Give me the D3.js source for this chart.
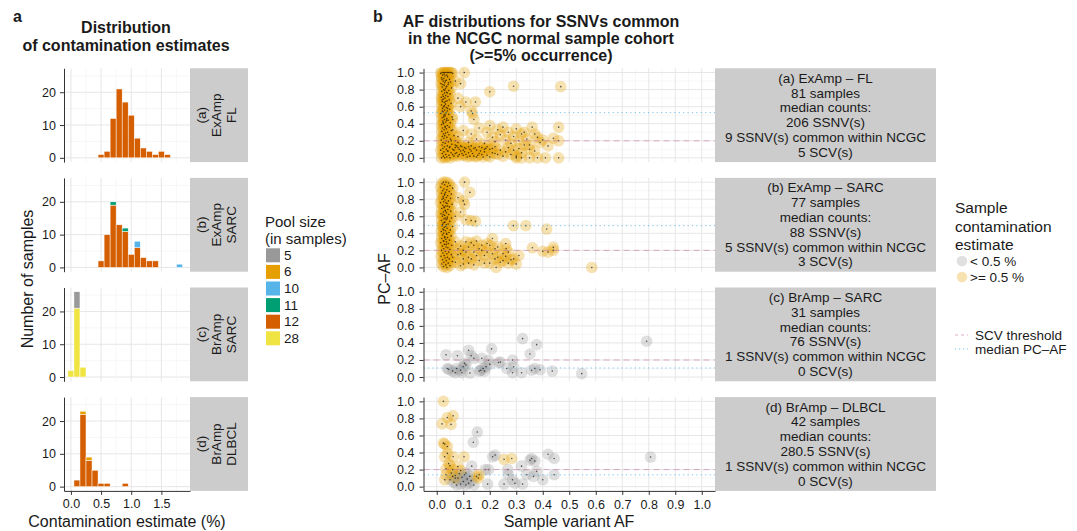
<!DOCTYPE html>
<html><head><meta charset="utf-8">
<script src="https://cdn.jsdelivr.net/npm/d3@7"></script>
<style>
body{margin:0;background:#fff}
text{font-family:"Liberation Sans",Arial,Helvetica,sans-serif;fill:#1a1a1a}
</style></head>
<body><svg id="c" width="1077" height="531"></svg>
<script>
// ---------------- DATA ----------------
const poolLevels = ["5","6","10","11","12","28"];
const poolColors = ["#999999","#E69F00","#56B4E9","#009E73","#D55E00","#F0E442"];
const stackOrder = ["28","12","11","10","6","5"]; // bottom -> top

// histogram bins: [bin centre (%), pool size, count]
const histA = [[0.5,"12",1],[0.6,"12",2],[0.7,"12",12],[0.8,"12",21],[0.9,"12",17],[1.0,"12",13],[1.1,"12",6],[1.2,"12",3],[1.3,"12",2],[1.4,"12",1],[1.5,"12",2],[1.6,"12",1]];
const histB = [[0.5,"12",2],[0.6,"12",10],[0.7,"12",19],[0.7,"11",1],[0.8,"12",13],[0.9,"12",11],[0.9,"11",1],[1.0,"12",4],[1.1,"12",6],[1.1,"10",2],[1.2,"12",3],[1.3,"12",2],[1.4,"12",2],[1.8,"10",1]];
const histC = [[0.0,"28",2],[0.1,"28",21],[0.1,"5",5],[0.2,"28",3]];
const histD = [[0.1,"12",2],[0.2,"12",22],[0.2,"6",1],[0.3,"12",8],[0.3,"6",1],[0.4,"12",5],[0.5,"12",1],[0.6,"12",1],[0.9,"12",1]];
const histXTicks = [0, 0.5, 1.0, 1.5];
const histYTicks = [0, 10, 20];
const leftStrips = [["(a)","ExAmp","FL"],["(b)","ExAmp","SARC"],["(c)","BrAmp","SARC"],["(d)","BrAmp","DLBCL"]];

// scatter: [sample variant AF, PC-AF]
const scatA = [
[0.02,1.0],[0.03,1.0],[0.04,1.0],[0.05,1.0],[0.025,1.0],[0.035,1.0],[0.045,1.0],[0.055,1.0],[0.015,0.99],[0.06,0.99],
[0.022,0.97],[0.031,0.96],[0.041,0.95],[0.018,0.94],[0.027,0.93],[0.048,0.92],[0.036,0.91],[0.024,0.9],[0.052,0.89],[0.03,0.88],
[0.016,0.87],[0.043,0.86],[0.028,0.85],[0.038,0.84],[0.021,0.83],[0.056,0.82],[0.033,0.81],[0.026,0.8],[0.045,0.79],[0.019,0.78],
[0.037,0.77],[0.029,0.76],[0.05,0.75],[0.023,0.74],[0.034,0.73],[0.042,0.72],[0.017,0.71],[0.031,0.7],[0.025,0.69],[0.047,0.68],
[0.039,0.67],[0.021,0.66],[0.028,0.65],[0.054,0.64],[0.033,0.63],[0.018,0.62],[0.044,0.61],[0.026,0.6],[0.036,0.59],[0.022,0.58],
[0.049,0.57],[0.03,0.56],[0.04,0.55],[0.024,0.54],[0.035,0.53],[0.016,0.52],[0.045,0.51],[0.027,0.5],[0.032,0.49],[0.058,0.48],
[0.02,0.47],[0.038,0.46],[0.029,0.45],[0.043,0.44],[0.023,0.43],[0.034,0.42],[0.051,0.41],[0.026,0.4],[0.018,0.39],[0.04,0.38],
[0.031,0.37],[0.047,0.36],[0.022,0.35],[0.036,0.34],[0.028,0.33],[0.055,0.32],[0.019,0.31],[0.041,0.3],[0.033,0.29],[0.025,0.28],
[0.046,0.27],[0.03,0.26],[0.021,0.25],[0.038,0.24],[0.027,0.23],[0.052,0.22],[0.017,0.21],[0.035,0.2],[0.044,0.19],[0.024,0.18],
[0.032,0.17],[0.057,0.16],[0.02,0.15],[0.04,0.14],[0.029,0.13],[0.048,0.12],[0.023,0.11],[0.036,0.1],[0.015,0.09],[0.043,0.08],
[0.027,0.07],[0.054,0.06],[0.021,0.05],[0.034,0.04],[0.046,0.03],[0.025,0.02],[0.038,0.01],[0.018,0.0],[0.03,0.0],[0.05,0.0],
[0.028,0.98],[0.038,0.97],[0.02,0.92],[0.032,0.9],[0.044,0.88],[0.023,0.86],[0.035,0.83],[0.03,0.79],[0.04,0.76],[0.025,0.72],
[0.02,0.68],[0.034,0.66],[0.029,0.61],[0.041,0.58],[0.021,0.55],[0.031,0.51],[0.026,0.48],[0.037,0.44],[0.024,0.41],[0.032,0.36],
[0.06,0.1],[0.07,0.05],[0.08,0.12],[0.09,0.08],[0.1,0.03],[0.11,0.11],[0.12,0.06],[0.13,0.14],[0.14,0.02],[0.15,0.09],
[0.16,0.05],[0.17,0.12],[0.18,0.07],[0.19,0.03],[0.2,0.1],[0.21,0.06],[0.22,0.13],[0.23,0.04],[0.24,0.09],[0.25,0.02],
[0.065,0.02],[0.075,0.14],[0.085,0.04],[0.095,0.13],[0.105,0.07],[0.115,0.01],[0.125,0.1],[0.135,0.05],[0.145,0.12],[0.155,0.03],
[0.165,0.08],[0.175,0.01],[0.185,0.11],[0.26,0.07],[0.27,0.12],[0.28,0.04],[0.29,0.09],[0.3,0.02],[0.31,0.11],[0.32,0.06],
[0.04,0.08],[0.05,0.13],[0.06,0.04],[0.065,0.09],[0.07,0.12],[0.075,0.06],[0.08,0.02],[0.085,0.1],[0.09,0.14],[0.095,0.05],
[0.1,0.09],[0.105,0.12],[0.11,0.04],[0.12,0.13],[0.125,0.02],[0.13,0.08],[0.14,0.11],[0.15,0.01],[0.16,0.13],[0.17,0.04],
[0.18,0.1],[0.19,0.13],[0.2,0.01],[0.21,0.11],[0.22,0.05],[0.055,0.2],[0.065,0.26],[0.06,0.33],[0.07,0.15],[0.08,0.18],
[0.07,0.2],[0.08,0.25],[0.1,0.32],[0.12,0.18],[0.13,0.28],[0.15,0.22],[0.16,0.35],[0.18,0.17],[0.19,0.3],[0.2,0.38],
[0.21,0.24],[0.22,0.19],[0.23,0.33],[0.24,0.27],[0.25,0.36],[0.26,0.21],[0.27,0.3],[0.28,0.17],[0.29,0.25],[0.3,0.34],
[0.31,0.2],[0.32,0.28],[0.33,0.3],[0.34,0.22],[0.35,0.15],[0.36,0.36],[0.37,0.28],[0.38,0.24],[0.39,0.18],[0.4,0.21],
[0.33,0.15],[0.35,0.1],[0.37,0.08],[0.42,0.14],[0.44,0.23],[0.46,0.2],[0.46,0.36],
[0.3,0.0],[0.32,0.0],[0.35,0.0],[0.38,0.0],[0.41,0.0],[0.46,0.0],
[0.104,1.0],[0.09,0.87],[0.2,0.775],[0.29,0.84],[0.468,0.835],[0.11,0.655],[0.146,0.655],[0.13,0.55],[0.135,0.52],[0.14,0.45],
[0.09,0.6],[0.07,0.9],[0.08,0.7],[0.06,0.45]
];
const scatB = [
[0.025,1.0],[0.035,1.0],[0.045,0.99],[0.02,0.98],[0.03,0.97],[0.05,0.96],[0.04,0.95],[0.015,0.94],[0.06,0.93],[0.027,0.92],
[0.038,0.91],[0.022,0.9],[0.047,0.89],[0.033,0.88],[0.018,0.87],[0.055,0.86],[0.029,0.85],[0.041,0.84],[0.024,0.83],[0.036,0.82],
[0.052,0.81],[0.02,0.8],[0.031,0.79],[0.044,0.78],[0.026,0.77],[0.014,0.76],[0.039,0.75],[0.058,0.74],[0.023,0.73],[0.034,0.72],
[0.048,0.71],[0.028,0.7],[0.019,0.69],[0.042,0.68],[0.032,0.67],[0.053,0.66],[0.025,0.65],[0.037,0.64],[0.016,0.63],[0.045,0.62],
[0.03,0.61],[0.021,0.6],[0.04,0.59],[0.056,0.58],[0.027,0.57],[0.035,0.56],[0.018,0.55],[0.049,0.54],[0.031,0.53],[0.024,0.52],
[0.043,0.51],[0.036,0.5],[0.02,0.49],[0.06,0.48],[0.028,0.47],[0.039,0.46],[0.023,0.45],[0.051,0.44],[0.033,0.43],[0.017,0.42],
[0.046,0.41],[0.026,0.4],[0.038,0.39],[0.022,0.38],[0.054,0.37],[0.03,0.36],[0.041,0.35],[0.019,0.34],[0.034,0.33],[0.048,0.32],
[0.025,0.31],[0.037,0.3],[0.015,0.29],[0.044,0.28],[0.029,0.27],[0.057,0.26],[0.021,0.25],[0.035,0.24],[0.042,0.23],[0.026,0.22],
[0.05,0.21],[0.018,0.2],[0.032,0.19],[0.045,0.18],[0.023,0.17],[0.038,0.16],[0.055,0.15],[0.028,0.14],[0.016,0.13],[0.04,0.12],
[0.031,0.11],[0.047,0.1],[0.022,0.09],[0.036,0.08],[0.059,0.07],[0.027,0.06],[0.043,0.05],[0.019,0.04],[0.034,0.03],[0.05,0.02],
[0.025,0.01],[0.038,0.0],
[0.03,0.86],[0.025,0.81],[0.035,0.76],[0.028,0.71],[0.033,0.66],[0.024,0.62],[0.039,0.57],[0.029,0.53],[0.034,0.48],[0.026,0.44],
[0.037,0.4],[0.03,0.35],[0.027,0.31],[0.036,0.27],[0.032,0.58],[0.022,0.5],[0.041,0.72],
[0.105,1.0],[0.125,0.88],[0.1,0.78],[0.105,0.74],[0.09,0.65],[0.11,0.56],[0.13,0.55],[0.146,0.54],[0.289,0.49],[0.336,0.49],
[0.415,0.45],[0.08,0.82],[0.07,0.6],
[0.07,0.3],[0.09,0.25],[0.11,0.3],[0.13,0.29],[0.15,0.31],[0.17,0.26],[0.19,0.28],[0.21,0.34],[0.23,0.24],[0.26,0.28],
[0.262,0.22],[0.361,0.23],[0.4,0.19],[0.44,0.235],[0.42,0.18],[0.44,0.2],
[0.08,0.15],[0.1,0.2],[0.12,0.12],[0.14,0.18],[0.16,0.08],[0.18,0.14],[0.2,0.05],[0.22,0.1],[0.24,0.06],[0.26,0.13],
[0.28,0.09],[0.3,0.04],[0.31,0.14],[0.25,0.16],[0.224,0.0],[0.14,0.03],[0.12,0.05],[0.09,0.02],[0.1,0.1],[0.17,0.2],[0.27,0.05],
[0.06,0.12],[0.07,0.06],[0.08,0.22],[0.09,0.16],[0.1,0.04],[0.11,0.18],[0.12,0.24],[0.13,0.1],[0.14,0.26],[0.15,0.14],
[0.16,0.22],[0.18,0.05],[0.19,0.18],[0.2,0.26],[0.21,0.16],[0.22,0.22],[0.23,0.12],[0.25,0.08],[0.27,0.18],[0.29,0.1],
[0.585,0.0]
];
const scatC = [
[0.035,0.26],[0.04,0.1],[0.045,0.09],[0.078,0.25],[0.12,0.315],[0.13,0.25],[0.14,0.22],[0.105,0.16],[0.09,0.08],[0.095,0.05],
[0.11,0.14],[0.125,0.047],[0.17,0.22],[0.166,0.08],[0.175,0.1],[0.186,0.12],[0.195,0.196],[0.207,0.33],[0.2,0.15],[0.233,0.17],
[0.24,0.175],[0.264,0.1],[0.286,0.2],[0.29,0.12],[0.286,0.05],[0.324,0.45],[0.32,0.05],[0.352,0.27],[0.377,0.38],[0.358,0.08],
[0.37,0.1],[0.39,0.085],[0.436,0.07],[0.547,0.04],[0.792,0.42],[0.06,0.07],[0.075,0.1],[0.07,0.05],[0.1,0.12],[0.18,0.07],[0.16,0.07]
];
const scatDLow = [
[0.153,0.64],[0.138,0.52],[0.132,0.24],[0.183,0.2],[0.195,0.2],[0.211,0.35],[0.22,0.37],[0.192,0.03],[0.254,0.03],[0.268,0.2],
[0.27,0.14],[0.286,0.08],[0.295,0.04],[0.324,0.03],[0.32,0.24],[0.34,0.14],[0.352,0.31],[0.358,0.33],[0.37,0.3],[0.377,0.18],
[0.365,0.12],[0.4,0.08],[0.42,0.38],[0.443,0.33],[0.443,0.14],[0.807,0.347],
[0.05,0.08],[0.065,0.05],[0.08,0.1],[0.09,0.03],[0.1,0.06],[0.11,0.02],[0.07,0.13],[0.085,0.15],[0.095,0.11],[0.105,0.14],
[0.115,0.09],[0.12,0.04],[0.13,0.07],[0.14,0.02],[0.075,0.02],[0.06,0.12],[0.125,0.12],[0.11,0.16]
];
const scatDHigh = [
[0.025,1.0],[0.02,0.736],[0.04,0.81],[0.062,0.83],[0.054,0.73],[0.025,0.51],[0.03,0.5],[0.04,0.47],[0.03,0.35],[0.04,0.39],
[0.062,0.35],[0.103,0.35],[0.05,0.245],[0.06,0.2],[0.08,0.235],[0.035,0.14],[0.07,0.1],[0.157,0.1],[0.254,0.32],[0.283,0.33],
[0.09,0.19],[0.045,0.27],[0.035,0.21],[0.055,0.16],[0.03,0.08],[0.15,0.12],[0.16,0.14]
];
const medianPCAF = [0.53, 0.49, 0.106, 0.138];
const scvThreshold = 0.2;
const scatXTicks = [0,0.1,0.2,0.3,0.4,0.5,0.6,0.7,0.8,0.9,1.0];
const scatYTicks = [0,0.2,0.4,0.6,0.8,1.0];
const rightStrips = [
["(a) ExAmp – FL","81 samples","median counts:","206 SSNV(s)","9 SSNV(s) common within NCGC","5 SCV(s)"],
["(b) ExAmp – SARC","77 samples","median counts:","88 SSNV(s)","5 SSNV(s) common within NCGC","3 SCV(s)"],
["(c) BrAmp – SARC","31 samples","median counts:","76 SSNV(s)","1 SSNV(s) common within NCGC","0 SCV(s)"],
["(d) BrAmp – DLBCL","42 samples","median counts:","280.5 SSNV(s)","1 SSNV(s) common within NCGC","0 SCV(s)"]
];

// ---------------- LAYOUT ----------------
const svg = d3.select("#c");
const rowTop = i => 68.3 + i * 109.6;
const rowH = 93.8;
const gridMajor = "#e6e6e6", gridMinor = "#f2f2f2", axisCol = "#333";
const fillLow = "#999999", fillHigh = "#E69F00", ptAlpha = 0.3, ptR = 5.8;

function styleAxis(g){
  g.select(".domain").attr("stroke", axisCol).attr("stroke-width", 1);
  g.selectAll(".tick line").attr("stroke", axisCol).attr("stroke-width", 1);
  g.selectAll(".tick text").style("font-size","12.5px").attr("fill","#1a1a1a");
}

// ---------- Panel a: histograms ----------
const hx = d3.scaleLinear().domain([-0.115, 1.975]).range([64, 190]);
const hists = [histA, histB, histC, histD];
const colorOf = d3.scaleOrdinal().domain(poolLevels).range(poolColors);

hists.forEach((data, i) => {
  const top = rowTop(i);
  const hy = d3.scaleLinear().domain([-1.3, 27.3]).range([top + rowH, top]);
  const g = svg.append("g");
  [0.25,0.75,1.25,1.75].forEach(v => g.append("line").attr("x1",hx(v)).attr("x2",hx(v)).attr("y1",top).attr("y2",top+rowH).attr("stroke",gridMinor).attr("stroke-width",0.6));
  [5,15,25].forEach(v => g.append("line").attr("x1",64).attr("x2",190).attr("y1",hy(v)).attr("y2",hy(v)).attr("stroke",gridMinor).attr("stroke-width",0.6));
  histXTicks.forEach(v => g.append("line").attr("x1",hx(v)).attr("x2",hx(v)).attr("y1",top).attr("y2",top+rowH).attr("stroke",gridMajor).attr("stroke-width",1));
  histYTicks.forEach(v => g.append("line").attr("x1",64).attr("x2",190).attr("y1",hy(v)).attr("y2",hy(v)).attr("stroke",gridMajor).attr("stroke-width",1));
  const centres = Array.from(new Set(data.map(d => d[0])));
  centres.forEach(c => {
    let cum = 0;
    stackOrder.forEach(p => {
      const row = data.find(d => d[0] === c && d[1] === p);
      if (!row) return;
      g.append("rect")
        .attr("x", hx(c - 0.05)).attr("width", hx(c + 0.05) - hx(c - 0.05))
        .attr("y", hy(cum + row[2])).attr("height", hy(cum) - hy(cum + row[2]))
        .attr("fill", colorOf(p)).attr("stroke", "#fff").attr("stroke-width", 0.5);
      cum += row[2];
    });
  });
  const ay = svg.append("g").attr("transform","translate(64,0)")
    .call(d3.axisLeft(hy).tickValues(histYTicks).tickSize(4).tickSizeOuter(0).tickPadding(4));
  styleAxis(ay);
  svg.append("rect").attr("x",190).attr("y",top).attr("width",58).attr("height",rowH).attr("fill","#cccccc");
  const st = svg.append("g").attr("transform",`translate(216,${top+rowH/2}) rotate(-90)`);
  leftStrips[i].forEach((t,k) => st.append("text").attr("x",0).attr("y",(k-1)*15)
    .attr("text-anchor","middle").attr("dominant-baseline","central").style("font-size","13.5px").text(t));
  if (i === 3) {
    const ax = svg.append("g").attr("transform",`translate(0,${top+rowH})`)
      .call(d3.axisBottom(hx).tickValues(histXTicks).tickFormat(d3.format(".1f")).tickSize(4).tickSizeOuter(0).tickPadding(4));
    styleAxis(ax);
  }
});

// ---------- Panel b: scatter ----------
const sx = d3.scaleLinear().domain([-0.05, 1.05]).range([423.5, 715]);
const scats = [[scatA, []], [scatB, []], [[], scatC], [scatDHigh, scatDLow]];
const xMinor = [0.05,0.15,0.25,0.35,0.45,0.55,0.65,0.75,0.85,0.95];
const yMinor = [0.1,0.3,0.5,0.7,0.9];

scats.forEach((pair, i) => {
  const top = rowTop(i);
  const sy = d3.scaleLinear().domain([-0.05, 1.05]).range([top + rowH, top]);
  const g = svg.append("g");
  xMinor.forEach(v => g.append("line").attr("x1",sx(v)).attr("x2",sx(v)).attr("y1",top).attr("y2",top+rowH).attr("stroke",gridMinor).attr("stroke-width",0.6));
  yMinor.forEach(v => g.append("line").attr("x1",423.5).attr("x2",715).attr("y1",sy(v)).attr("y2",sy(v)).attr("stroke",gridMinor).attr("stroke-width",0.6));
  scatXTicks.forEach(v => g.append("line").attr("x1",sx(v)).attr("x2",sx(v)).attr("y1",top).attr("y2",top+rowH).attr("stroke",gridMajor).attr("stroke-width",1));
  scatYTicks.forEach(v => g.append("line").attr("x1",423.5).attr("x2",715).attr("y1",sy(v)).attr("y2",sy(v)).attr("stroke",gridMajor).attr("stroke-width",1));

  const [high, low] = pair;
  const cg = svg.append("g");
  cg.selectAll("circle.low").data(low).join("circle").attr("class","low")
    .attr("cx", d => sx(d[0])).attr("cy", d => sy(d[1])).attr("r", ptR)
    .attr("fill", fillLow).attr("fill-opacity", ptAlpha);
  cg.selectAll("circle.high").data(high).join("circle").attr("class","high")
    .attr("cx", d => sx(d[0])).attr("cy", d => sy(d[1])).attr("r", ptR)
    .attr("fill", fillHigh).attr("fill-opacity", ptAlpha);
  cg.selectAll("circle.dot").data(low.concat(high)).join("circle").attr("class","dot")
    .attr("cx", d => sx(d[0])).attr("cy", d => sy(d[1])).attr("r", 0.8)
    .attr("fill", "#000").attr("fill-opacity", 0.65);

  svg.append("line").attr("x1",423.5).attr("x2",715).attr("y1",sy(scvThreshold)).attr("y2",sy(scvThreshold))
    .attr("stroke","#CC79A7").attr("stroke-opacity",0.6).attr("stroke-width",1).attr("stroke-dasharray","6,4");
  svg.append("line").attr("x1",423.5).attr("x2",715).attr("y1",sy(medianPCAF[i])).attr("y2",sy(medianPCAF[i]))
    .attr("stroke","#56B4E9").attr("stroke-opacity",0.8).attr("stroke-width",1).attr("stroke-dasharray","1.2,3.2");

  const ay = svg.append("g").attr("transform","translate(423.5,0)")
    .call(d3.axisLeft(sy).tickValues(scatYTicks).tickFormat(d3.format(".1f")).tickSize(4).tickSizeOuter(0).tickPadding(5));
  styleAxis(ay);

  svg.append("rect").attr("x",715).attr("y",top).attr("width",221).attr("height",rowH).attr("fill","#cccccc");
  rightStrips[i].forEach((t,k) => svg.append("text").attr("x",825.5).attr("y",top+rowH/2+(k-2.5)*14.8)
    .attr("text-anchor","middle").attr("dominant-baseline","central").style("font-size","13.5px").text(t));

  if (i === 3) {
    const ax = svg.append("g").attr("transform",`translate(0,${top+rowH})`)
      .call(d3.axisBottom(sx).tickValues(scatXTicks).tickFormat(d3.format(".1f")).tickSize(4).tickSizeOuter(0).tickPadding(5));
    styleAxis(ax);
  }
});

// ---------- Titles & axis titles ----------
svg.append("text").attr("x",13).attr("y",22).style("font-size","16px").style("font-weight","bold").text("a");
svg.append("text").attr("x",373).attr("y",22).style("font-size","16px").style("font-weight","bold").text("b");
[["Distribution",33],["of contamination estimates",50.5]].forEach(([t,y]) =>
  svg.append("text").attr("x",126).attr("y",y).attr("text-anchor","middle").style("font-size","16px").style("font-weight","bold").text(t));
[["AF distributions for SSNVs common",27],["in the NCGC normal sample cohort",44],["(>=5% occurrence)",61]].forEach(([t,y]) =>
  svg.append("text").attr("x",541).attr("y",y).attr("text-anchor","middle").style("font-size","16px").style("font-weight","bold").text(t));

svg.append("text").attr("x",127).attr("y",527).attr("text-anchor","middle").style("font-size","16px").text("Contamination estimate (%)");
svg.append("text").attr("x",569).attr("y",527).attr("text-anchor","middle").style("font-size","16px").text("Sample variant AF");
svg.append("text").attr("transform","translate(33,279) rotate(-90)").attr("text-anchor","middle").style("font-size","16px").text("Number of samples");
svg.append("text").attr("transform","translate(390,279) rotate(-90)").attr("text-anchor","middle").style("font-size","16px").text("PC–AF");

// ---------- Legend: pool size ----------
svg.append("text").attr("x",265).attr("y",227).style("font-size","15px").text("Pool size");
svg.append("text").attr("x",265).attr("y",244).style("font-size","15px").text("(in samples)");
poolLevels.forEach((p,k) => {
  const cy = 255.3 + k * 16.6;
  svg.append("rect").attr("x",266).attr("y",cy-7).attr("width",14).attr("height",14).attr("fill",poolColors[k]);
  svg.append("text").attr("x",284).attr("y",cy).attr("dominant-baseline","central").style("font-size","13.5px").text(p);
});

// ---------- Legend: contamination ----------
[["Sample",213],["contamination",232],["estimate",250]].forEach(([t,y]) =>
  svg.append("text").attr("x",955).attr("y",y).style("font-size","15.5px").text(t));
[[fillLow,"< 0.5 %",261],[fillHigh,">= 0.5 %",277]].forEach(([c,t,y]) => {
  svg.append("circle").attr("cx",962).attr("cy",y).attr("r",5.3).attr("fill",c).attr("fill-opacity",ptAlpha);
  svg.append("text").attr("x",970).attr("y",y).attr("dominant-baseline","central").style("font-size","13.5px").text(t);
});
svg.append("line").attr("x1",955).attr("x2",968).attr("y1",335).attr("y2",335)
  .attr("stroke","#CC79A7").attr("stroke-opacity",0.6).attr("stroke-dasharray","3,3");
svg.append("text").attr("x",975).attr("y",335).attr("dominant-baseline","central").style("font-size","13.5px").text("SCV threshold");
svg.append("line").attr("x1",955).attr("x2",968).attr("y1",349).attr("y2",349)
  .attr("stroke","#56B4E9").attr("stroke-opacity",0.8).attr("stroke-dasharray","1.2,2.8");
svg.append("text").attr("x",975).attr("y",349).attr("dominant-baseline","central").style("font-size","13.5px").text("median PC–AF");
</script>
</body></html>
